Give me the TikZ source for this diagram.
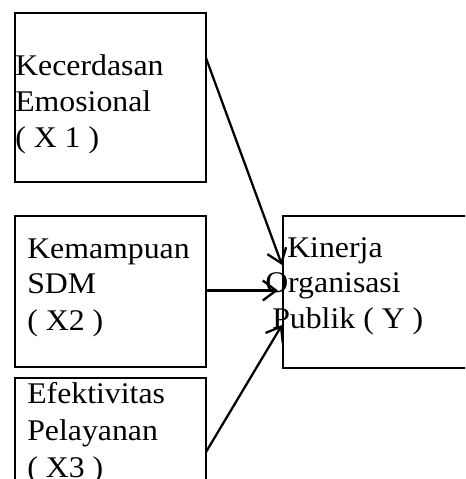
\documentclass[tikz,border=0pt]{standalone}
\usepackage{fontspec}
\setmainfont{Liberation Serif}[FakeStretch=1.06]
\usetikzlibrary{arrows.meta,calc}
\tikzset{
  box/.style={draw=black, line width=1.6pt, rectangle, inner sep=0pt, outer sep=0pt},
  lbl/.style={anchor=base west, inner sep=0pt, font=\fontsize{22.5pt}{27pt}\selectfont},
  arr/.style={line width=1.7pt, -{Straight Barb[length=10pt,width=15pt,line width=1.7pt]}}
}
\begin{document}
\begin{tikzpicture}[x=0.75pt,y=-0.75pt]
\clip (0,0) rectangle (465,479);
\fill[white] (0,0) rectangle (465,479);
% boxes
\node[box, minimum width=143.25pt, minimum height=126.75pt] (b1) at (110.5,97.5) {};
\node[box, minimum width=143.25pt, minimum height=113.25pt] (b2) at (110.5,291.5) {};
\node[box, minimum width=143.25pt, minimum height=121.5pt] (b3) at (110.5,459) {};
\node[box, minimum width=155.25pt, minimum height=114pt] (by) at (386.5,292) {};
% texts
\node[lbl] (t1a) at (15,75) {Kecerdasan};
\node[lbl] (t1b) at (15,111) {Emosional};
\node[lbl] (t1c) at (15,147) {( X 1 )};
\node[lbl] (t2a) at (27,258) {Kemampuan};
\node[lbl] (t2b) at (27,293) {SDM};
\node[lbl] (t2c) at (27,330) {( X2 )};
\node[lbl] (t3a) at (27,403) {Efektivitas};
\node[lbl] (t3b) at (27,440) {Pelayanan};
\node[lbl] (t3c) at (27,477) {( X3 )};
\node[lbl] (tya) at (287,257) {Kinerja};
\node[lbl] (tyb) at (265,292) {Organisasi};
\node[lbl] (tyc) at (272,328) {Publik ( Y )};
% connectors
\coordinate (s1) at ($(b1.north east)+(0,45)$);
\coordinate (e1) at ($(by.north west)+(-1,49)$);
\coordinate (s2) at ($(b2.north east)+(0,74.5)$);
\coordinate (e2) at ($(by.north west)+(-5,74.5)$);
\coordinate (s3) at ($(b3.north east)+(0,74)$);
\coordinate (e3) at ($(by.north west)+(-1,109)$);
\draw[arr] (s1) -- (e1);
\draw[arr] (s2) -- (e2);
\draw[arr] (s3) -- (e3);
\end{tikzpicture}
\end{document}
